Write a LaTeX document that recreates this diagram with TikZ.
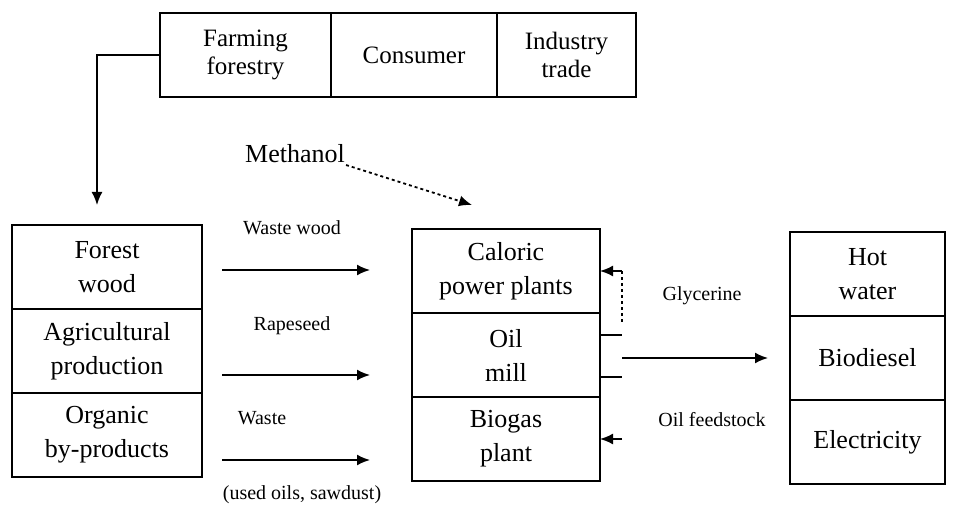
\documentclass[tikz,border=0pt]{standalone}
\usepackage{fontspec}
\setmainfont{Liberation Serif}
\usetikzlibrary{arrows.meta,positioning,calc}

\begin{document}
\begin{tikzpicture}[
  x=1pt, y=-1pt,
  node distance=0pt,
  cell/.style={draw, line width=1.8pt, align=center, inner sep=0pt, outer sep=0pt, minimum height=84pt, font=\fontsize{26}{34}\selectfont},
  topcell/.style={cell, font=\fontsize{25}{28}\selectfont},
  lbl/.style={inner sep=1pt, font=\fontsize{20}{24}\selectfont},
  arr/.style={-{Latex[length=13pt,width=11pt]}, line width=1.8pt}
]
\useasboundingbox (0,0) rectangle (971,510);

% top row
\node[topcell, minimum width=171pt] (farming) at (245.5,55) {Farming\\forestry};
\node[topcell, minimum width=166pt, right=of farming] (consumer) {Consumer};
\node[topcell, minimum width=139pt, right=of consumer] (industry) {Industry\\trade};

% sources
\node[cell, minimum width=190pt] (forest) at (107,267) {Forest\\wood};
\node[cell, minimum width=190pt, below=of forest] (agri) {Agricultural\\production};
\node[cell, minimum width=190pt, below=of agri] (organic) {Organic\\by-products};

% plants
\node[cell, minimum width=188pt] (caloric) at (506,271) {Caloric\\power plants};
\node[cell, minimum width=188pt, below=of caloric] (oil) {Oil\\mill};
\node[cell, minimum width=188pt, below=of oil] (biogas) {Biogas\\plant};

% products
\node[cell, minimum width=155pt] (hot) at (867.5,274) {Hot\\water};
\node[cell, minimum width=155pt, below=of hot] (biodiesel) {Biodiesel};
\node[cell, minimum width=155pt, below=of biodiesel] (electricity) {Electricity};

% labels
\node[font=\fontsize{26}{30}\selectfont, inner sep=1pt] (methanol) at (295,154) {Methanol};
\node[lbl] (wastewood) at (292,228) {Waste wood};
\node[lbl] (rapeseed) at (292,326) {Rapeseed};
\node[lbl] (waste) at (262,418) {Waste};
\node[lbl] (usedoils) at (302,495) {(used oils, sawdust)};
\node[lbl] (glycerine) at (702,296) {Glycerine};
\node[lbl] (feedstock) at (712,420) {Oil feedstock};

% flows
\draw[arr] (farming.west) -| ($(forest.north west)+(85,-20)$);
\draw[arr, dashed] ($(methanol.east)+(0,11)$) -- ($(caloric.north)+(-34,-24)$);
\draw[arr] ($(forest.east)+(20,3)$) -- ($(forest.east -| caloric.west)+(-42,3)$);
\draw[arr] ($(agri.east)+(20,24)$) -- ($(agri.east -| caloric.west)+(-42,24)$);
\draw[arr] ($(organic.east)+(20,25)$) -- ($(organic.east -| caloric.west)+(-42,25)$);

\coordinate (glytop) at ($(caloric.east)+(22,0)$);
\coordinate (glybot) at ($(oil.north east)+(22,9)$);
\draw[dashed, line width=1.8pt] (glybot) -- (glytop);
\draw[arr] (glytop) -- (caloric.east);
\draw[line width=1.8pt] ($(oil.east)+(0,-20)$) -- ++(22,0);
\draw[line width=1.8pt] ($(oil.east)+(0,22)$) -- ++(22,0);
\draw[arr] ($(oil.east)+(22,3)$) -- ($(biodiesel.west)+(-22,0)$);
\draw[arr] ($(biogas.east)+(22,0)$) -- (biogas.east);
\end{tikzpicture}
\end{document}
